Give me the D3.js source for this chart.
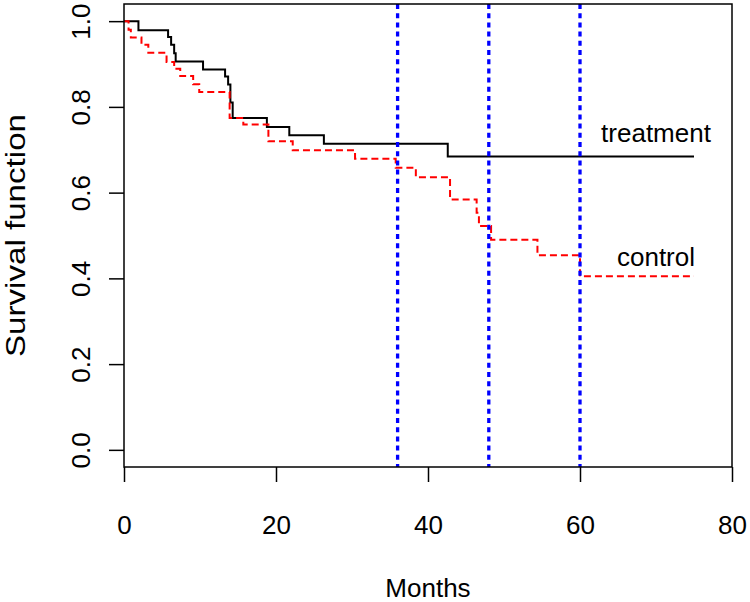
<!DOCTYPE html>
<html>
<head>
<meta charset="utf-8">
<script src="https://cdn.jsdelivr.net/npm/d3@7"></script>
<style>
  html, body { margin: 0; padding: 0; background: #fff; }
  svg { display: block; }
</style>
</head>
<body>
<svg id="chart" width="750" height="602"></svg>
<script>
// ---- data ----
const treatTimes = [0, 1.9, 5.8, 6.2, 6.6, 6.8, 10.4, 13.3, 13.7, 14.0, 14.3, 18.8, 21.75, 26.3, 42.6];
const treatSurv  = [1.0, 0.979, 0.963, 0.945, 0.925, 0.906, 0.887, 0.871, 0.852, 0.810, 0.774, 0.753, 0.734, 0.714, 0.684];
const treatEnd = 75;

const ctrlTimes = [0, 0.6, 0.9, 2.3, 3.2, 5.6, 6.6, 7.4, 9.1, 9.9, 13.9, 15.7, 19.0, 22.2, 30.4, 35.75, 38.4, 42.9, 46.4, 46.7, 48.3, 54.4, 60.0];
const ctrlSurv  = [1.0, 0.980, 0.962, 0.945, 0.926, 0.905, 0.889, 0.872, 0.853, 0.835, 0.774, 0.759, 0.720, 0.699, 0.679, 0.658, 0.636, 0.584, 0.553, 0.522, 0.490, 0.454, 0.405];
const ctrlEnd = 75;

const refMonths = [36, 48, 60];
const xTicks = [0, 20, 40, 60, 80];
const yTicks = [0, 0.2, 0.4, 0.6, 0.8, 1.0];
const groupLabels = ["treatment", "control"];
const labelX = [70, 70];
const labelY = [0.74, 0.45];

// ---- layout ----
const W = 750, H = 602;
const m = { left: 124, right: 18, top: 4, bottom: 135 };
const FONT = "'Liberation Sans', Arial, Helvetica, sans-serif";
const FS = 26;

const svg = d3.select("#chart");
const x = d3.scaleLinear().domain([0, 80]).range([m.left, W - m.right]);
const y = d3.scaleLinear().domain([-0.04, 1.04]).range([H - m.bottom, m.top]);

function stepPts(times, surv, end) {
  const pts = times.map((t, i) => [t, surv[i]]);
  pts.push([end, surv[surv.length - 1]]);
  return pts;
}
const line = d3.line().x(d => x(d[0])).y(d => y(d[1])).curve(d3.curveStepAfter);

// treatment (black solid)
svg.append("path")
  .datum(stepPts(treatTimes, treatSurv, treatEnd))
  .attr("d", line)
  .attr("fill", "none").attr("stroke", "#000").attr("stroke-width", 2);

// control (red dashed)
svg.append("path")
  .datum(stepPts(ctrlTimes, ctrlSurv, ctrlEnd))
  .attr("d", line)
  .attr("fill", "none").attr("stroke", "#ff0000").attr("stroke-width", 2)
  .attr("stroke-dasharray", "7,4");

// reference lines (blue dotted)
svg.selectAll("line.ref").data(refMonths).enter().append("line")
  .attr("class", "ref")
  .attr("x1", d => x(d)).attr("x2", d => x(d))
  .attr("y1", y(1.04)).attr("y2", y(-0.04))
  .attr("stroke", "#0000ff").attr("stroke-width", 3.3)
  .attr("stroke-dasharray", "5,4.2");

// box
svg.append("rect")
  .attr("x", x(0)).attr("y", y(1.04))
  .attr("width", x(80) - x(0)).attr("height", y(-0.04) - y(1.04))
  .attr("fill", "none").attr("stroke", "#000").attr("stroke-width", 1.5);

// x axis
const gx = svg.append("g")
  .attr("transform", `translate(0,${y(-0.04)})`)
  .call(d3.axisBottom(x).tickValues(xTicks).tickSize(15).tickFormat(d3.format("d")));
gx.select(".domain").remove();
gx.selectAll(".tick line").attr("stroke", "#000").attr("stroke-width", 1.5);
gx.selectAll(".tick text")
  .attr("y", 67).attr("dy", 0)
  .attr("fill", "#000")
  .style("font-family", FONT).style("font-size", FS + "px");

// y axis
const gy = svg.append("g")
  .attr("transform", `translate(${x(0)},0)`)
  .call(d3.axisLeft(y).tickValues(yTicks).tickSize(15).tickFormat(d3.format(".1f")));
gy.select(".domain").remove();
gy.selectAll(".tick line").attr("stroke", "#000").attr("stroke-width", 1.5);
gy.selectAll(".tick text")
  .attr("x", 0).attr("y", 0).attr("dy", 0)
  .attr("text-anchor", "middle")
  .attr("transform", "translate(-34,0) rotate(-90)")
  .attr("fill", "#000")
  .style("font-family", FONT).style("font-size", FS + "px");

// axis titles
svg.append("text")
  .attr("x", (x(0) + x(80)) / 2).attr("y", 597)
  .attr("text-anchor", "middle")
  .style("font-family", FONT).style("font-size", FS + "px")
  .text("Months");

svg.append("text")
  .attr("transform", `translate(25,${(y(-0.04) + y(1.04)) / 2}) rotate(-90)`)
  .attr("text-anchor", "middle")
  .attr("textLength", 243)
  .attr("lengthAdjust", "spacingAndGlyphs")
  .style("font-family", FONT).style("font-size", "27px")
  .text("Survival function");

// group labels
svg.selectAll("text.grp").data(groupLabels).enter().append("text")
  .attr("class", "grp")
  .attr("x", (d, i) => x(labelX[i]))
  .attr("y", (d, i) => y(labelY[i]))
  .attr("dy", "0.35em")
  .attr("text-anchor", "middle")
  .style("font-family", FONT).style("font-size", FS + "px")
  .text(d => d);
</script>
</body>
</html>
